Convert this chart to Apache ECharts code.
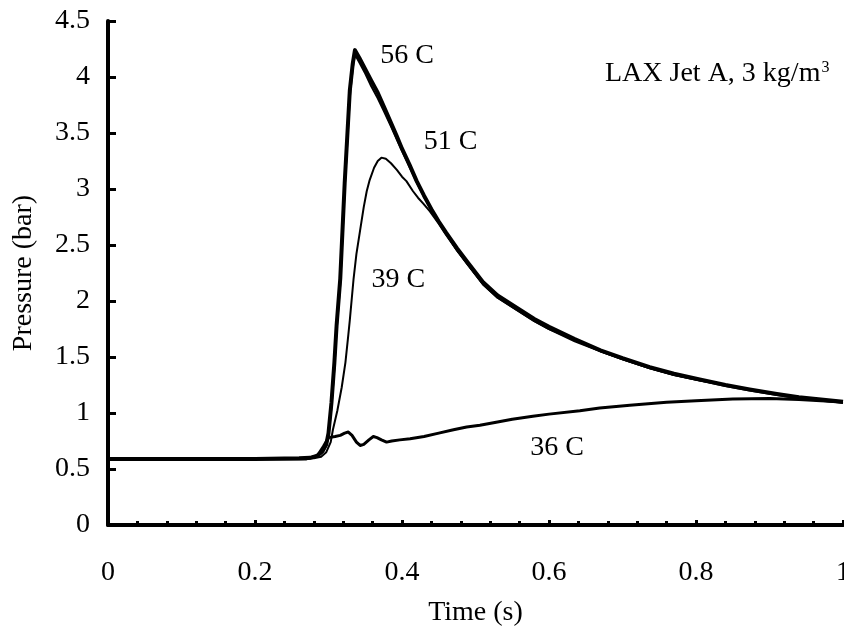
<!DOCTYPE html>
<html>
<head>
<meta charset="utf-8">
<script src="https://cdn.jsdelivr.net/npm/echarts@6/dist/echarts.min.js"></script>
<style>
html,body{margin:0;padding:0;background:#fff;}
#c{width:844px;height:635px;}
</style>
</head>
<body>
<div id="c"></div>
<script>
// ---- data ----
const t56 = [0, 0.1, 0.2, 0.26, 0.275, 0.285, 0.292, 0.297, 0.30, 0.304, 0.308, 0.311, 0.316, 0.322, 0.329, 0.333, 0.336, 0.342, 0.35, 0.358, 0.367, 0.375, 0.385, 0.393, 0.40, 0.41, 0.42, 0.43, 0.44, 0.45, 0.46, 0.475, 0.49, 0.51, 0.53, 0.556, 0.58, 0.60, 0.635, 0.67, 0.70, 0.737, 0.77, 0.805, 0.84, 0.873, 0.91, 0.94, 0.97, 1.0];
const p56 = [0.59, 0.59, 0.59, 0.595, 0.60, 0.62, 0.66, 0.72, 0.82, 1.09, 1.45, 1.78, 2.2, 3.05, 3.88, 4.12, 4.24, 4.17, 4.07, 3.97, 3.86, 3.74, 3.59, 3.47, 3.36, 3.22, 3.07, 2.94, 2.82, 2.71, 2.61, 2.47, 2.34, 2.17, 2.05, 1.94, 1.84, 1.77, 1.66, 1.56, 1.49, 1.41, 1.35, 1.30, 1.25, 1.21, 1.17, 1.14, 1.12, 1.10];

const t51 = [0, 0.1, 0.2, 0.26, 0.275, 0.285, 0.292, 0.297, 0.30, 0.304, 0.308, 0.311, 0.316, 0.322, 0.329, 0.333, 0.336, 0.342, 0.35, 0.358, 0.367, 0.375, 0.385, 0.393, 0.40, 0.41, 0.42, 0.43, 0.44, 0.45, 0.46, 0.475, 0.49, 0.51, 0.53, 0.556, 0.58, 0.60, 0.635, 0.67, 0.70, 0.737, 0.77, 0.805, 0.84, 0.873, 0.91, 0.94, 0.97, 1.0];
const p51 = [0.59, 0.59, 0.59, 0.59, 0.595, 0.61, 0.65, 0.71, 0.80, 1.05, 1.40, 1.74, 2.15, 3.00, 3.82, 4.08, 4.20, 4.13, 4.03, 3.92, 3.81, 3.70, 3.56, 3.44, 3.34, 3.20, 3.06, 2.93, 2.81, 2.70, 2.60, 2.45, 2.32, 2.15, 2.03, 1.92, 1.82, 1.75, 1.65, 1.55, 1.48, 1.40, 1.34, 1.29, 1.25, 1.21, 1.17, 1.14, 1.12, 1.10];

const t39 = [0, 0.1, 0.2, 0.26, 0.28, 0.29, 0.297, 0.303, 0.306, 0.312, 0.318, 0.323, 0.327, 0.329, 0.334, 0.338, 0.343, 0.348, 0.352, 0.356, 0.362, 0.367, 0.372, 0.378, 0.385, 0.393, 0.40, 0.406, 0.415, 0.422, 0.429, 0.438, 0.45, 0.46, 0.475, 0.49, 0.51, 0.53, 0.556, 0.58, 0.60, 0.635, 0.67, 0.70, 0.737, 0.77, 0.805, 0.84, 0.873, 0.91, 0.94, 0.97, 1.0];
const p39 = [0.59, 0.59, 0.59, 0.59, 0.595, 0.61, 0.65, 0.74, 0.85, 1.02, 1.23, 1.45, 1.70, 1.83, 2.19, 2.42, 2.63, 2.84, 2.98, 3.08, 3.19, 3.25, 3.28, 3.27, 3.23, 3.17, 3.11, 3.07, 2.98, 2.92, 2.87, 2.80, 2.69, 2.59, 2.45, 2.32, 2.15, 2.03, 1.92, 1.82, 1.75, 1.64, 1.55, 1.48, 1.40, 1.34, 1.29, 1.24, 1.20, 1.16, 1.13, 1.11, 1.09];

const t36 = [0, 0.1, 0.2, 0.27, 0.285, 0.293, 0.30, 0.309, 0.316, 0.322, 0.327, 0.332, 0.338, 0.343, 0.348, 0.355, 0.361, 0.366, 0.372, 0.379, 0.386, 0.397, 0.411, 0.43, 0.45, 0.47, 0.488, 0.506, 0.53, 0.55, 0.578, 0.60, 0.642, 0.669, 0.71, 0.76, 0.80, 0.85, 0.90, 0.94, 0.97, 1.0];
const p36 = [0.59, 0.59, 0.59, 0.59, 0.62, 0.70, 0.78, 0.79, 0.80, 0.82, 0.83, 0.80, 0.74, 0.71, 0.72, 0.76, 0.79, 0.78, 0.76, 0.74, 0.75, 0.76, 0.77, 0.79, 0.82, 0.85, 0.875, 0.89, 0.92, 0.945, 0.97, 0.99, 1.02, 1.045, 1.07, 1.095, 1.11, 1.125, 1.13, 1.12, 1.11, 1.10];

const curveNames = ['56 C', '51 C', '39 C', '36 C'];
// label anchor positions (time, pressure)
const labelT = [0.407, 0.466, 0.395, 0.611];
const labelP = [4.19, 3.42, 2.19, 0.69];

const xTicks = [0, 0.2, 0.4, 0.6, 0.8, 1];
const yTicks = [0, 0.5, 1, 1.5, 2, 2.5, 3, 3.5, 4, 4.5];

const titleText = 'LAX Jet A, 3 kg/m';
const titleSup = '3';

// ---- build ----
const FONT = '"Liberation Serif", "Times New Roman", serif';
const FS = 28;
const zip = (a, b) => a.map((v, i) => [v, b[i]]);
const allT = [t56, t51, t39, t36];
const allP = [p56, p51, p39, p36];
const widths = [4, 2, 2, 3];

const series = curveNames.map((name, i) => ({
  name: name,
  type: 'line',
  data: zip(allT[i], allP[i]),
  showSymbol: false,
  symbol: 'none',
  smooth: false,
  lineStyle: { color: '#000', width: widths[i], join: 'round' },
  z: 3 + i,
  silent: true,
  markPoint: {
    symbol: 'circle',
    symbolSize: 0,
    silent: true,
    data: [{ coord: [labelT[i], labelP[i]] }],
    label: {
      show: true,
      position: 'inside',
      formatter: name,
      color: '#000',
      fontFamily: FONT,
      fontSize: FS
    }
  }
}));

const chart = echarts.init(document.getElementById('c'), null, { renderer: 'canvas' });
chart.setOption({
  backgroundColor: '#fff',
  animation: false,
  title: {
    text: titleText + '{sup|' + titleSup + '}',
    left: 600,
    top: 55,
    textStyle: {
      fontFamily: FONT,
      fontSize: FS,
      fontWeight: 'normal',
      color: '#000',
      rich: {
        sup: { fontFamily: FONT, fontSize: 16, verticalAlign: 'top', color: '#000', padding: [0, 0, 12, 1] }
      }
    }
  },
  grid: { left: 108, right: 1, top: 21, bottom: 110, containLabel: false, outerBoundsMode: 'none' },
  xAxis: {
    type: 'value',
    min: 0, max: 1, interval: 0.2,
    name: 'Time (s)',
    nameLocation: 'middle',
    nameGap: 74,
    nameTextStyle: { fontFamily: FONT, fontSize: FS, color: '#000' },
    axisLine: { show: true, onZero: false, lineStyle: { color: '#000', width: 4 } },
    axisTick: { show: true, inside: true, length: 5, lineStyle: { color: '#000', width: 3 } },
    minorTick: { show: true, splitNumber: 5, length: 4, lineStyle: { color: '#000', width: 3 } },
    splitLine: { show: false },
    minorSplitLine: { show: false },
    axisLabel: {
      margin: 34,
      fontFamily: FONT, fontSize: FS, color: '#000',
      formatter: v => { const k = xTicks.find(x => Math.abs(x - v) < 1e-9); return k === undefined ? '' : String(k); }
    }
  },
  yAxis: {
    type: 'value',
    min: 0, max: 4.5, interval: 0.5,
    name: 'Pressure (bar)',
    nameLocation: 'middle',
    nameGap: 70,
    nameRotate: 90,
    nameTextStyle: { fontFamily: FONT, fontSize: FS, color: '#000' },
    axisLine: { show: true, onZero: false, lineStyle: { color: '#000', width: 4 } },
    axisTick: { show: true, inside: true, length: 8, lineStyle: { color: '#000', width: 3 } },
    splitLine: { show: false },
    axisLabel: {
      margin: 18,
      fontFamily: FONT, fontSize: FS, color: '#000',
      formatter: v => { const k = yTicks.find(y => Math.abs(y - v) < 1e-9); return k === undefined ? '' : String(k); }
    }
  },
  series: series
});
</script>
</body>
</html>
